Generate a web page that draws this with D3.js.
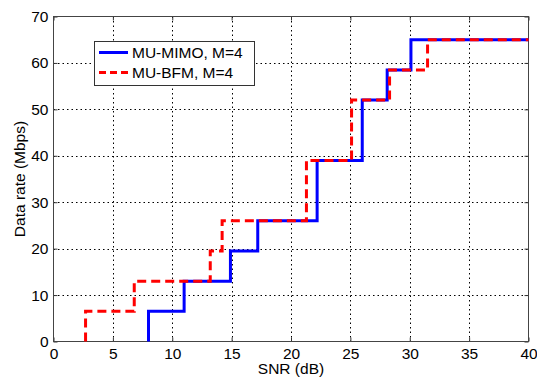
<!DOCTYPE html>
<html><head><meta charset="utf-8">
<script src="https://cdn.jsdelivr.net/npm/d3@7"></script>
<style>body{margin:0;background:#fff}svg{display:block}text{font-family:"Liberation Sans",Arial,sans-serif;fill:#000}</style>
</head><body><svg id="c" width="537" height="382"></svg>
<script>
const xTicks = [0,5,10,15,20,25,30,35,40];
const yTicks = [0,10,20,30,40,50,60,70];
const rates = [0,6.5,13,19.5,26,39,52,58.5,65];
const mimoSwitch = [8,11,14.9,17.2,22.2,26,28.1,30.1];
const bfmSwitch = [2.7,6.8,13.2,14.2,21.3,25.1,28.3,31.5];
const seriesNames = ["MU-MIMO, M=4","MU-BFM, M=4"];
const xEnd = 40;

function stepPts(sw){
  const p=[[sw[0],0]];
  for(let i=0;i<sw.length;i++){
    p.push([sw[i],rates[i+1]]);
    p.push([i+1<sw.length?sw[i+1]:xEnd,rates[i+1]]);
  }
  return p;
}

const FS=15.5;
const svg=d3.select("#c");
const L=53.5,R=528.5,T=16.5,B=341.5;
const x=d3.scaleLinear().domain([0,40]).range([L,R]);
const y=d3.scaleLinear().domain([0,70]).range([B,T]);

// grid
const g=svg.append("g");
g.selectAll(".gx").data(xTicks.slice(1,-1)).enter().append("line")
 .attr("x1",d=>Math.round(x(d))+0.5).attr("x2",d=>Math.round(x(d))+0.5).attr("y1",T).attr("y2",B)
 .attr("stroke","#000").attr("stroke-width",1).attr("stroke-dasharray","1.5,3");
g.selectAll(".gy").data(yTicks.slice(1,-1)).enter().append("line")
 .attr("y1",d=>Math.round(y(d))+0.5).attr("y2",d=>Math.round(y(d))+0.5).attr("x1",L).attr("x2",R)
 .attr("stroke","#000").attr("stroke-width",1).attr("stroke-dasharray","1.5,3");

// axes
const xa=svg.append("g").attr("transform",`translate(0,${B})`)
 .call(d3.axisBottom(x).tickValues(xTicks).tickSize(-4).tickPadding(6));
const xa2=svg.append("g").attr("transform",`translate(0,${T})`)
 .call(d3.axisTop(x).tickValues(xTicks).tickSize(-4).tickFormat(""));
const ya=svg.append("g").attr("transform",`translate(${L},0)`)
 .call(d3.axisLeft(y).tickValues(yTicks).tickSize(-4).tickPadding(5));
const ya2=svg.append("g").attr("transform",`translate(${R},0)`)
 .call(d3.axisRight(y).tickValues(yTicks).tickSize(-4).tickFormat(""));
[xa,xa2,ya,ya2].forEach(a=>{a.select(".domain").remove();a.selectAll("line").attr("stroke","#333");
 a.selectAll("text").attr("font-size",FS).attr("font-family","Liberation Sans, Arial, sans-serif");});
svg.append("rect").attr("x",L).attr("y",T).attr("width",R-L).attr("height",B-T)
 .attr("fill","none").attr("stroke","#444").attr("stroke-width",1);

// lines
const line=d3.line().x(d=>x(d[0])).y(d=>y(d[1]));
svg.append("path").datum(stepPts(mimoSwitch)).attr("d",line).attr("fill","none")
 .attr("stroke","#0000ff").attr("stroke-width",3).attr("stroke-linejoin","miter");
svg.append("path").datum(stepPts(bfmSwitch)).attr("d",line).attr("fill","none")
 .attr("stroke","#ff0000").attr("stroke-width",3).attr("stroke-dasharray","9,5");

// labels
svg.append("text").attr("x",(L+R)/2).attr("y",374).attr("text-anchor","middle").attr("font-size",FS).text("SNR (dB)");
svg.append("text").attr("transform",`translate(25,${(T+B)/2}) rotate(-90)`).attr("text-anchor","middle").attr("font-size",FS).text("Data rate (Mbps)");

// legend
const lg=svg.append("g");
lg.append("rect").attr("x",94.5).attr("y",41.5).attr("width",160).attr("height",44)
 .attr("fill","#fff").attr("stroke","#333").attr("stroke-width",1);
const styles=[{c:"#0000ff",d:null},{c:"#ff0000",d:"7,4"}];
seriesNames.forEach((n,i)=>{
  const yy=52.5+i*20;
  const l=lg.append("line").attr("x1",99).attr("x2",128).attr("y1",yy).attr("y2",yy)
   .attr("stroke",styles[i].c).attr("stroke-width",3);
  if(styles[i].d) l.attr("stroke-dasharray",styles[i].d);
  lg.append("text").attr("x",132).attr("y",yy+5.5).attr("font-size",FS).text(n);
});
</script></body></html>
